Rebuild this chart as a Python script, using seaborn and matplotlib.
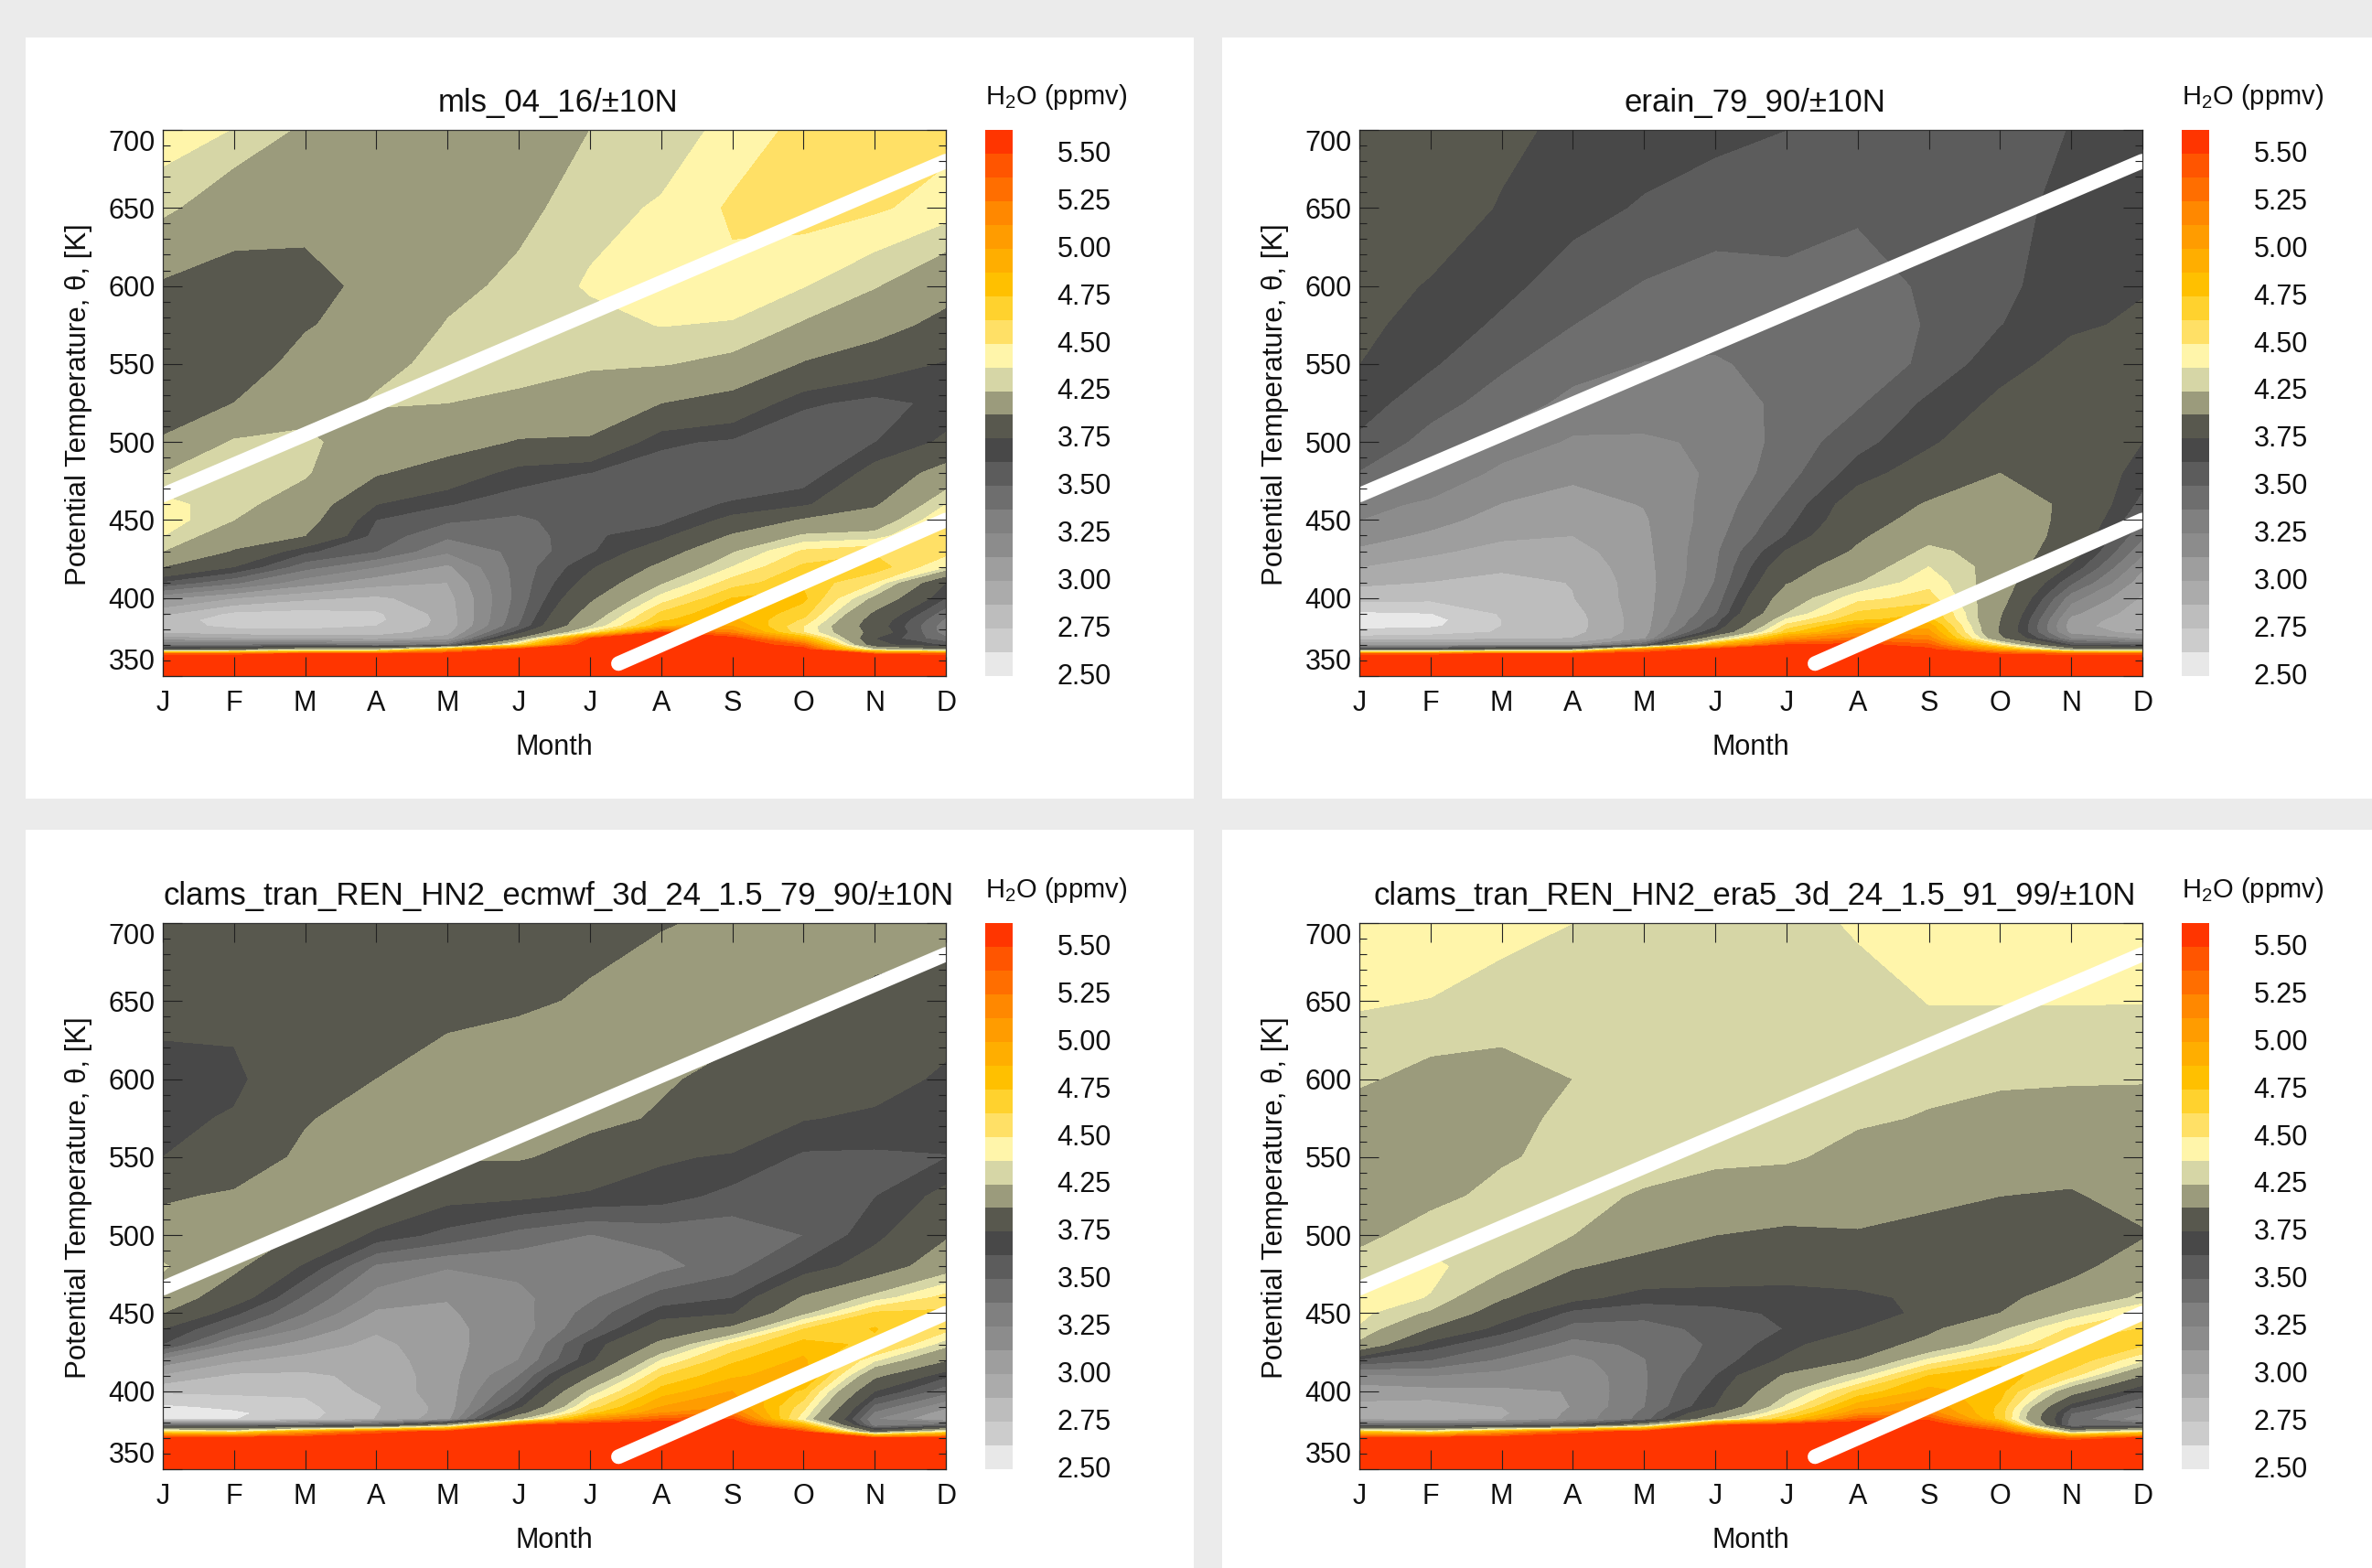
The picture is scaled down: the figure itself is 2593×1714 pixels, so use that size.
import matplotlib
matplotlib.use("Agg")
import matplotlib.pyplot as plt
from matplotlib.colors import ListedColormap
from matplotlib.patches import Rectangle
from matplotlib.ticker import MultipleLocator
import seaborn as sns
import numpy as np

W, H = 2593, 1714

MONTHS = ["J", "F", "M", "A", "M", "J", "J", "A", "S", "O", "N", "D"]
THETA = [350, 360, 364, 367, 370, 374, 378, 382, 386, 390, 400, 410, 420,
         430, 440, 450, 460, 480, 500, 525, 550, 575, 600, 650, 700]
THETA_TICKS = [350, 400, 450, 500, 550, 600, 650, 700]

# band edges of the colour bar (no 4.00 label in the original)
LEVELS = [2.5, 2.625, 2.75, 2.875, 3.0, 3.125, 3.25, 3.375, 3.5, 3.625, 3.75,
          4.0, 4.25, 4.375, 4.5, 4.625, 4.75, 4.875, 5.0, 5.125, 5.25, 5.375, 5.5]
BAR_LABELS = [2.5, 2.75, 3.0, 3.25, 3.5, 3.75, 4.25, 4.5, 4.75, 5.0, 5.25, 5.5]
COLORS = ["#e8e8e8", "#cccccc", "#bdbdbd", "#ababab", "#9e9e9e", "#8c8c8c",
          "#808080", "#6e6e6e", "#5c5c5c", "#484848", "#58584e", "#9b9b7c",
          "#d6d6a6", "#fff5aa", "#ffe066", "#ffd22e", "#ffc000", "#ffae00",
          "#ff9c00", "#ff8800", "#ff6e00", "#ff5500", "#ff3500"]

# one row per month, values going up in THETA
MLS = [
    [5.7, 5.7, 5.45, 3.8, 3.35, 3.05, 2.85, 2.8, 2.8, 2.9, 3.15, 3.6, 4.0, 4.25, 4.38, 4.45, 4.42, 4.25, 4.02, 3.9, 3.85, 3.82, 3.97, 4.29, 4.45],
    [5.7, 5.7, 5.45, 3.9, 3.35, 3.0, 2.8, 2.72, 2.7, 2.72, 3.0, 3.4, 3.75, 3.98, 4.12, 4.25, 4.3, 4.33, 4.27, 4.0, 3.87, 3.85, 3.9, 4.12, 4.37],
    [5.7, 5.7, 5.6, 4.2, 3.4, 2.95, 2.8, 2.7, 2.68, 2.7, 2.9, 3.18, 3.42, 3.65, 4.0, 4.1, 4.15, 4.27, 4.3, 4.15, 4.08, 3.98, 3.9, 4.1, 4.22],
    [5.7, 5.7, 5.6, 4.2, 3.3, 2.95, 2.8, 2.75, 2.72, 2.73, 2.85, 3.05, 3.25, 3.5, 3.57, 3.62, 3.75, 4.02, 4.1, 4.27, 4.2, 4.1, 4.08, 4.05, 4.1],
    [5.7, 5.7, 5.65, 5.0, 3.4, 3.05, 2.95, 2.92, 2.92, 2.93, 2.95, 3.0, 3.1, 3.27, 3.4, 3.52, 3.63, 3.88, 4.1, 4.25, 4.3, 4.26, 4.2, 4.18, 4.15],
    [5.7, 5.7, 5.7, 5.6, 4.6, 4.0, 3.68, 3.5, 3.47, 3.45, 3.42, 3.42, 3.42, 3.41, 3.42, 3.47, 3.56, 3.68, 3.98, 4.2, 4.33, 4.32, 4.29, 4.2, 4.15],
    [5.7, 5.7, 5.7, 5.7, 5.7, 5.5, 4.5, 4.24, 4.17, 4.1, 3.95, 3.82, 3.72, 3.6, 3.6, 3.58, 3.58, 3.62, 3.97, 4.15, 4.27, 4.33, 4.39, 4.33, 4.25],
    [5.7, 5.7, 5.7, 5.7, 5.7, 5.7, 5.5, 4.85, 4.72, 4.65, 4.42, 4.22, 4.05, 3.87, 3.7, 3.58, 3.56, 3.55, 3.65, 4.0, 4.26, 4.38, 4.43, 4.39, 4.3],
    [5.7, 5.7, 5.7, 5.7, 5.7, 5.6, 5.2, 5.0, 4.9, 4.87, 4.75, 4.56, 4.375, 4.23, 4.02, 3.8, 3.64, 3.5, 3.6, 3.9, 4.2, 4.36, 4.47, 4.52, 4.42],
    [5.7, 5.7, 5.7, 5.6, 5.35, 4.9, 4.5, 4.5, 4.6, 4.68, 4.78, 4.72, 4.65, 4.52, 4.27, 4.02, 3.72, 3.53, 3.5, 3.65, 3.98, 4.23, 4.38, 4.56, 4.54],
    [5.7, 5.7, 5.5, 4.3, 3.8, 3.75, 3.9, 3.85, 3.88, 3.95, 4.2, 4.5, 4.7, 4.6, 4.3, 4.12, 3.97, 3.82, 3.62, 3.58, 3.85, 4.1, 4.26, 4.52, 4.55],
    [5.7, 5.7, 5.45, 4.0, 3.6, 3.4, 3.3, 3.3, 3.35, 3.42, 3.62, 3.75, 4.38, 4.55, 4.62, 4.5, 4.375, 4.1, 3.78, 3.66, 3.73, 3.92, 4.1, 4.44, 4.55],
]
ERAIN = [
    [5.7, 5.7, 5.45, 3.7, 3.1, 2.8, 2.68, 2.58, 2.55, 2.6, 2.8, 2.9, 3.0, 3.1, 3.18, 3.25, 3.3, 3.49, 3.6, 3.68, 3.75, 3.78, 3.8, 3.82, 3.85],
    [5.7, 5.7, 5.45, 3.7, 3.1, 2.82, 2.7, 2.6, 2.58, 2.62, 2.78, 2.87, 2.95, 3.02, 3.1, 3.17, 3.22, 3.37, 3.45, 3.55, 3.64, 3.7, 3.74, 3.82, 3.88],
    [5.7, 5.7, 5.6, 4.0, 3.1, 2.85, 2.76, 2.75, 2.75, 2.76, 2.79, 2.83, 2.9, 2.96, 3.02, 3.07, 3.12, 3.21, 3.33, 3.44, 3.52, 3.6, 3.66, 3.74, 3.78],
    [5.7, 5.7, 5.6, 4.0, 3.05, 2.88, 2.83, 2.82, 2.82, 2.83, 2.87, 2.88, 2.91, 2.95, 3.0, 3.04, 3.08, 3.15, 3.23, 3.34, 3.42, 3.5, 3.56, 3.67, 3.72],
    [5.7, 5.7, 5.65, 5.2, 3.5, 3.1, 3.07, 3.07, 3.07, 3.07, 3.07, 3.07, 3.08, 3.09, 3.1, 3.11, 3.13, 3.18, 3.23, 3.32, 3.37, 3.44, 3.49, 3.61, 3.69],
    [5.7, 5.7, 5.7, 5.6, 4.9, 4.2, 3.75, 3.6, 3.55, 3.48, 3.42, 3.38, 3.36, 3.35, 3.33, 3.31, 3.3, 3.27, 3.27, 3.3, 3.36, 3.42, 3.45, 3.56, 3.66],
    [5.7, 5.7, 5.7, 5.7, 5.5, 5.1, 4.7, 4.55, 4.4, 4.25, 4.13, 3.98, 3.88, 3.76, 3.63, 3.58, 3.53, 3.45, 3.42, 3.41, 3.42, 3.44, 3.47, 3.55, 3.625],
    [5.7, 5.7, 5.7, 5.7, 5.55, 5.3, 5.1, 4.95, 4.73, 4.65, 4.45, 4.24, 4.15, 4.03, 3.96, 3.88, 3.85, 3.68, 3.58, 3.48, 3.41, 3.42, 3.44, 3.52, 3.6],
    [5.7, 5.7, 5.7, 5.55, 5.4, 5.2, 5.05, 4.95, 4.8, 4.75, 4.55, 4.46, 4.375, 4.29, 4.18, 4.1, 4.02, 3.85, 3.72, 3.65, 3.53, 3.51, 3.52, 3.55, 3.58],
    [5.7, 5.7, 5.5, 5.0, 4.5, 4.05, 3.97, 3.98, 4.0, 4.02, 4.1, 4.14, 4.18, 4.17, 4.15, 4.12, 4.08, 4.0, 3.9, 3.78, 3.7, 3.62, 3.58, 3.56, 3.55],
    [5.7, 5.7, 5.45, 4.1, 3.6, 3.25, 3.08, 3.05, 3.08, 3.15, 3.3, 3.52, 3.72, 3.85, 3.92, 3.95, 3.97, 3.92, 3.88, 3.85, 3.8, 3.73, 3.72, 3.68, 3.63],
    [5.7, 5.7, 5.45, 4.0, 3.5, 3.1, 2.95, 2.9, 2.9, 2.92, 2.98, 3.05, 3.15, 3.28, 3.4, 3.5, 3.58, 3.68, 3.75, 3.8, 3.82, 3.77, 3.74, 3.7, 3.72],
]
CLAMS_ECMWF = [
    [5.7, 5.7, 5.7, 5.7, 5.6, 4.6, 3.5, 2.6, 2.58, 2.6, 2.77, 2.98, 3.2, 3.62, 3.75, 4.0, 4.15, 4.27, 4.1, 3.97, 3.75, 3.7, 3.7, 3.8, 3.85],
    [5.7, 5.7, 5.7, 5.7, 5.6, 4.5, 3.5, 2.62, 2.6, 2.65, 2.78, 2.85, 3.02, 3.22, 3.48, 3.65, 3.85, 4.05, 4.1, 4.03, 3.85, 3.77, 3.7, 3.82, 3.85],
    [5.7, 5.7, 5.7, 5.7, 5.65, 5.0, 3.5, 2.72, 2.7, 2.72, 2.77, 2.85, 2.95, 3.07, 3.22, 3.37, 3.47, 3.72, 3.98, 4.1, 4.05, 3.98, 3.95, 3.88, 3.85],
    [5.7, 5.7, 5.7, 5.7, 5.7, 5.4, 3.6, 2.88, 2.87, 2.86, 2.92, 2.91, 2.93, 2.96, 3.02, 3.1, 3.2, 3.35, 3.7, 4.0, 4.13, 4.1, 4.0, 3.9, 3.8],
    [5.7, 5.7, 5.7, 5.7, 5.7, 5.6, 4.2, 3.08, 3.05, 3.05, 3.06, 3.07, 3.08, 3.09, 3.1, 3.11, 3.13, 3.26, 3.58, 3.8, 4.02, 4.12, 4.07, 3.95, 3.85],
    [5.7, 5.7, 5.7, 5.7, 5.7, 5.7, 5.5, 4.2, 3.9, 3.7, 3.5, 3.37, 3.25, 3.2, 3.18, 3.2, 3.22, 3.28, 3.45, 3.78, 4.02, 4.08, 4.12, 3.97, 3.9],
    [5.7, 5.7, 5.7, 5.7, 5.7, 5.7, 5.7, 5.1, 4.7, 4.55, 4.28, 3.98, 3.7, 3.66, 3.48, 3.42, 3.35, 3.28, 3.37, 3.72, 3.92, 4.05, 4.12, 4.02, 3.95],
    [5.7, 5.7, 5.7, 5.7, 5.7, 5.7, 5.7, 5.4, 5.12, 5.0, 4.8, 4.62, 4.375, 4.05, 3.85, 3.68, 3.55, 3.33, 3.42, 3.68, 3.77, 3.98, 4.02, 4.15, 3.98],
    [5.7, 5.7, 5.7, 5.7, 5.7, 5.7, 5.7, 5.5, 5.25, 5.12, 5.0, 4.85, 4.72, 4.53, 4.05, 3.73, 3.62, 3.45, 3.42, 3.58, 3.73, 3.9, 3.95, 4.08, 4.05],
    [5.7, 5.7, 5.7, 5.7, 5.7, 5.5, 4.9, 4.38, 4.48, 4.55, 4.72, 4.95, 4.9, 4.8, 4.62, 4.2, 4.02, 3.65, 3.5, 3.55, 3.6, 3.76, 3.9, 4.03, 4.1],
    [5.7, 5.7, 5.7, 5.7, 5.5, 3.9, 3.3, 3.25, 3.35, 3.45, 3.75, 4.05, 4.4, 4.72, 4.76, 4.65, 4.3, 3.85, 3.7, 3.62, 3.6, 3.72, 3.82, 3.95, 4.1],
    [5.7, 5.7, 5.7, 5.7, 5.55, 4.5, 3.5, 3.0, 3.05, 3.15, 3.42, 3.65, 4.02, 4.3, 4.55, 4.65, 4.55, 4.15, 3.97, 3.8, 3.62, 3.68, 3.72, 3.85, 4.1],
]
CLAMS_ERA5 = [
    [5.7, 5.7, 5.7, 5.7, 5.6, 4.7, 3.5, 2.97, 2.95, 2.97, 3.05, 3.22, 3.6, 4.2, 4.36, 4.41, 4.42, 4.32, 4.2, 4.05, 4.1, 4.18, 4.27, 4.39, 4.45],
    [5.7, 5.7, 5.7, 5.7, 5.6, 4.5, 3.5, 2.92, 2.9, 2.93, 3.08, 3.25, 3.5, 3.68, 3.98, 4.22, 4.37, 4.4, 4.33, 4.2, 4.05, 4.1, 4.2, 4.37, 4.48],
    [5.7, 5.7, 5.7, 5.7, 5.65, 5.0, 3.5, 3.0, 2.98, 3.0, 3.1, 3.2, 3.35, 3.5, 3.68, 3.85, 4.02, 4.3, 4.37, 4.3, 4.23, 4.18, 4.2, 4.32, 4.42],
    [5.7, 5.7, 5.7, 5.7, 5.7, 5.4, 3.6, 3.16, 3.15, 3.13, 3.13, 3.14, 3.2, 3.33, 3.45, 3.58, 3.8, 4.02, 4.25, 4.3, 4.3, 4.3, 4.25, 4.3, 4.375],
    [5.7, 5.7, 5.7, 5.7, 5.7, 5.6, 4.2, 3.42, 3.4, 3.37, 3.36, 3.36, 3.37, 3.4, 3.46, 3.53, 3.68, 3.92, 4.1, 4.23, 4.32, 4.33, 4.32, 4.3, 4.28],
    [5.7, 5.7, 5.7, 5.7, 5.7, 5.7, 5.5, 4.2, 3.95, 3.75, 3.68, 3.62, 3.55, 3.52, 3.53, 3.58, 3.68, 3.88, 4.0, 4.18, 4.28, 4.34, 4.35, 4.33, 4.3],
    [5.7, 5.7, 5.7, 5.7, 5.7, 5.7, 5.7, 4.75, 4.55, 4.4, 4.2, 4.03, 3.78, 3.7, 3.63, 3.65, 3.68, 3.85, 3.95, 4.15, 4.27, 4.3, 4.3, 4.32, 4.3],
    [5.7, 5.7, 5.7, 5.7, 5.7, 5.7, 5.7, 5.4, 5.1, 4.95, 4.65, 4.3, 4.0, 3.88, 3.74, 3.71, 3.7, 3.9, 3.98, 4.1, 4.2, 4.27, 4.28, 4.3, 4.4],
    [5.7, 5.7, 5.7, 5.7, 5.7, 5.7, 5.7, 5.45, 5.2, 5.1, 4.92, 4.75, 4.4, 4.07, 3.95, 3.77, 3.8, 3.88, 3.93, 4.05, 4.15, 4.24, 4.28, 4.38, 4.42],
    [5.7, 5.7, 5.7, 5.7, 5.7, 5.5, 5.1, 4.7, 4.7, 4.72, 4.8, 4.85, 4.68, 4.38, 4.22, 4.0, 3.95, 3.88, 3.92, 4.0, 4.12, 4.2, 4.27, 4.38, 4.43],
    [5.7, 5.7, 5.7, 5.7, 5.3, 4.2, 3.4, 3.45, 3.5, 3.65, 4.1, 4.55, 4.72, 4.65, 4.52, 4.28, 4.1, 3.93, 3.87, 3.98, 4.08, 4.15, 4.27, 4.38, 4.43],
    [5.7, 5.7, 5.7, 5.7, 5.55, 4.5, 3.5, 3.15, 3.25, 3.35, 3.6, 4.0, 4.4, 4.65, 4.63, 4.52, 4.28, 4.12, 3.98, 4.07, 4.1, 4.18, 4.26, 4.38, 4.42],
]
TITLES = ["mls_04_16/±10N", "erain_79_90/±10N",
          "clams_tran_REN_HN2_ecmwf_3d_24_1.5_79_90/±10N",
          "clams_tran_REN_HN2_era5_3d_24_1.5_91_99/±10N"]

# the two white lines, month and theta of each end
LINE_UP_X = [0, 11]
LINE_UP_Y = [466, 680]
LINE_LOW_X = [6.4, 11]
LINE_LOW_Y = [358, 450]

sns.set_style("white")
plt.rcParams["font.family"] = ["Liberation Sans", "DejaVu Sans"]
plt.rcParams["mathtext.default"] = "regular"
FS = 22
palette = sns.color_palette(COLORS)


def box(x0, y0, x1, y1):
    # pixel box to figure fractions, y counted from the top
    return [x0 / W, 1 - y1 / H, (x1 - x0) / W, (y1 - y0) / H]


fig = plt.figure(figsize=(W / 100, H / 100), dpi=100, facecolor="#ebebeb")
for x0, y0, x1, y1 in [(28, 41, 1305, 873), (1336, 41, W, 873),
                       (28, 907, 1305, H), (1336, 907, W, H)]:
    fig.add_artist(Rectangle((x0 / W, 1 - y1 / H), (x1 - x0) / W, (y1 - y0) / H,
                             transform=fig.transFigure, color="white", lw=0, zorder=-1))

panels = [(MLS, 178, 142), (ERAIN, 1486, 142), (CLAMS_ECMWF, 178, 1009), (CLAMS_ERA5, 1486, 1009)]
for (rows, left, top), title in zip(panels, TITLES):
    ax = fig.add_axes(box(left, top, left + 856, top + 597))
    z = np.array(rows).T
    ax.contourf(np.arange(12), THETA, z, levels=LEVELS, colors=palette, extend="max")

    sns.lineplot(x=LINE_UP_X, y=LINE_UP_Y, ax=ax, color="white", lw=11.5)
    sns.lineplot(x=LINE_LOW_X, y=LINE_LOW_Y, ax=ax, color="white", lw=11.5,
                 solid_capstyle="round")

    ax.set_axisbelow(False)
    ax.set_xlim(0, 11)
    ax.set_ylim(350, 700)
    ax.set_xticks(range(12))
    ax.set_xticklabels(MONTHS)
    ax.set_yticks(THETA_TICKS)
    ax.yaxis.set_minor_locator(MultipleLocator(10))
    ax.tick_params(which="major", direction="in", length=15, width=0.8, color="#222222",
                   bottom=True, left=True, top=True, right=True,
                   labelsize=FS, labelcolor="#111111")
    ax.tick_params(which="minor", direction="in", length=6, width=0.8, color="#222222",
                   left=True, right=True)
    ax.tick_params(axis="x", pad=11)
    ax.tick_params(axis="y", pad=6)
    ylabs = ax.get_yticklabels()
    ylabs[0].set_va("bottom")
    ylabs[-1].set_va("top")
    for s in ax.spines.values():
        s.set_linewidth(0.9)
        s.set_color("#333333")

    ax.set_xlabel("Month", fontsize=FS, color="#111111", va="center")
    ax.set_ylabel("Potential Temperature, θ, [K]", fontsize=22.5, color="#111111", va="center")
    ax.xaxis.set_label_coords(0.5, -0.13)
    ax.yaxis.set_label_coords(-0.107, 0.497)
    ax.text(0.505, 1.05, title, transform=ax.transAxes, ha="center", va="center",
            fontsize=25, color="#111111")

    # colour bar as a one column heatmap
    cax = fig.add_axes(box(left + 899, top, left + 929, top + 597))
    bands = np.arange(len(COLORS))[::-1].reshape(-1, 1)
    sns.heatmap(bands, ax=cax, cmap=ListedColormap(palette), cbar=False,
                xticklabels=False, yticklabels=False)
    cax.set_yticks([len(COLORS) - LEVELS.index(v) - 0.1 for v in BAR_LABELS])
    cax.set_yticklabels(["%.2f" % v for v in BAR_LABELS], fontsize=FS, rotation=0, color="#111111")
    cax.yaxis.tick_right()
    cax.tick_params(axis="y", length=0, pad=35)
    fig.text((left + 899) / W, 1 - (top - 36) / H, "H$_2$O (ppmv)", fontsize=21,
             ha="left", va="center", color="#111111")

fig.savefig("out.png", dpi=100, facecolor=fig.get_facecolor())
